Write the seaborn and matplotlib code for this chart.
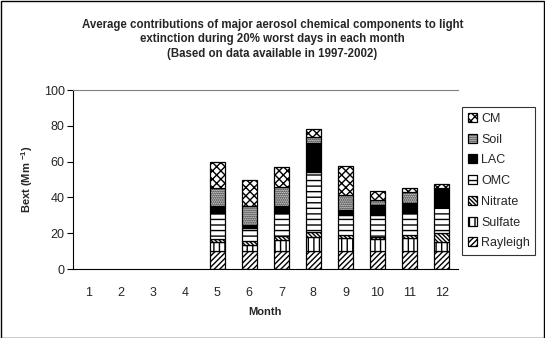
import matplotlib
matplotlib.use("Agg")
import matplotlib.pyplot as plt
import seaborn as sns
import numpy as np
import pandas as pd

months = [str(m) for m in range(1, 13)]
components = ["Rayleigh", "Sulfate", "Nitrate", "OMC", "LAC", "Soil", "CM"]
rayleigh = [0, 0, 0, 0, 10.0, 10.0, 10.2, 10.0, 10.0, 10.0, 10.0, 10.0]
sulfate = [0, 0, 0, 0, 5.0, 3.6, 6.0, 8.0, 7.5, 6.6, 7.1, 4.9]
nitrate = [0, 0, 0, 0, 1.8, 2.2, 2.2, 2.8, 1.3, 1.1, 1.9, 5.0]
omc = [0, 0, 0, 0, 14.3, 6.9, 12.7, 33.6, 11.2, 12.5, 12.5, 14.9]
lac = [0, 0, 0, 0, 4.3, 2.1, 4.1, 16.0, 3.0, 5.6, 5.2, 10.2]
soil = [0, 0, 0, 0, 9.7, 10.2, 10.4, 3.2, 8.1, 2.7, 6.5, 0.4]
cm = [0, 0, 0, 0, 14.9, 14.9, 11.2, 4.6, 16.4, 5.1, 2.2, 2.0]
yticks = [0, 20, 40, 60, 80, 100]

series = [rayleigh, sulfate, nitrate, omc, lac, soil, cm]
styles = {
    "Rayleigh": dict(facecolor="white", hatch="//////"),
    "Sulfate": dict(facecolor="white", hatch="|||"),
    "Nitrate": dict(facecolor="white", hatch="\\\\\\\\\\\\\\\\"),
    "OMC": dict(facecolor="white", hatch="---"),
    "LAC": dict(facecolor="black", hatch=None),
    "Soil": dict(facecolor="white", hatch="........"),
    "CM": dict(facecolor="white", hatch="XXXX"),
}

sns.set_style("white")
plt.rcParams["font.family"] = ["Liberation Sans", "DejaVu Sans"]
plt.rcParams["hatch.linewidth"] = 1.0
plt.rcParams["mathtext.default"] = "regular"

fig = plt.figure(figsize=(5.45, 3.38), dpi=100)
ax = fig.add_axes([0.134, 0.2041, 0.7057, 0.5296])

bottom = np.zeros(len(months))
for name, vals in zip(components, series):
    df = pd.DataFrame({"Month": months, "Bext": vals})
    st = styles[name]
    sns.barplot(data=df, x="Month", y="Bext", order=months, bottom=bottom,
                color=st["facecolor"], width=0.47, edgecolor="black",
                linewidth=0.9, hatch=st["hatch"], saturation=1, ax=ax,
                label=name, err_kws={"linewidth": 0})
    bottom = bottom + np.array(vals)

for p in ax.patches:
    p.set_edgecolor("black")

ax.set_xlim(-0.5, 11.5)
ax.set_ylim(0, 100)
ax.set_yticks(yticks)
ax.set_yticklabels([str(v) for v in yticks], fontsize=9)
ax.set_xticks(range(12))
ax.set_xticklabels(months, fontsize=9)
ax.set_xticks(np.arange(-0.5, 12, 1), minor=True)
ax.tick_params(axis="x", which="major", length=0, pad=13)
ax.tick_params(axis="x", which="minor", length=4, width=0.8, color="black", direction="out")
ax.tick_params(axis="y", length=4, width=0.8, color="black", direction="out", left=True, pad=2)

for s in ["left", "bottom"]:
    ax.spines[s].set_color("black")
    ax.spines[s].set_linewidth(0.8)
ax.spines["top"].set_color("#808080")
ax.spines["top"].set_linewidth(0.8)
ax.spines["right"].set_visible(False)

ax.set_xlabel("Month", fontsize=8, fontweight="bold", labelpad=6)
ax.set_ylabel("Bext (Mm $^{-1}$)", fontsize=8, fontweight="bold", labelpad=6)

h, l = ax.get_legend_handles_labels()
leg = fig.legend(h[::-1], l[::-1], loc="upper left", bbox_to_anchor=(0.848, 0.683),
                 fontsize=9, frameon=True, fancybox=False, edgecolor="black",
                 handlelength=0.75, handleheight=0.75, handletextpad=0.3,
                 labelspacing=0.7, borderpad=0.45, borderaxespad=0)
leg.get_frame().set_linewidth(0.8)
if ax.get_legend() is not None:
    ax.get_legend().remove()

# hide empty (zero-height) segments after the legend has copied its styles
for p in ax.patches:
    if p.get_height() == 0:
        p.set_visible(False)

fig.text(0.5, 0.945, "Average contributions of major aerosol chemical components to light\n"
         "extinction during 20% worst days in each month\n(Based on data available in 1997-2002)",
         ha="center", va="top", fontsize=8.3, fontweight="bold", linespacing=1.3)

fig.patches.append(plt.Rectangle((0.001, 0.001), 0.997, 0.997, transform=fig.transFigure,
                                 fill=False, edgecolor="black", linewidth=1))

fig.savefig("out.png", dpi=100)
